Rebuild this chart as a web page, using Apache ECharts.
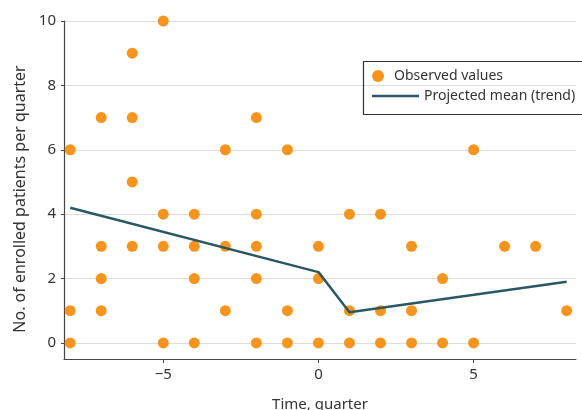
<!DOCTYPE html>
<html><head><meta charset="utf-8">
<script src="https://cdn.jsdelivr.net/npm/echarts@6/dist/echarts.min.js"></script>
<style>html,body{margin:0;padding:0;background:#fff}#c{width:582px;height:410px}</style>
</head><body><div id="c"></div>
<script>
// Observed values (quarter, number of enrolled patients)
const observedQuarter = [-8,-8,-8, -7,-7,-7,-7, -6,-6,-6,-6, -5,-5,-5,-5, -4,-4,-4,-4, -3,-3,-3, -2,-2,-2,-2,-2, -1,-1,-1, 0,0,0, 1,1,1, 2,2,2, 3,3,3, 4,4, 5,5, 6, 7, 8];
const observedCount   = [ 6, 1, 0,  7, 3, 2, 1,  9, 7, 5, 3, 10, 4, 3, 0,  4, 3, 2, 0,  6, 3, 1,  7, 4, 3, 2, 0,  6, 1, 0, 3,2,0, 4,1,0, 4,1,0, 3,1,0, 2,0, 6,0, 3, 3, 1];
// Projected mean (trend)
const trendQuarter = [-8, 0, 1, 8];
const trendMean    = [4.2, 2.2, 0.95, 1.9];
// Guide lines (intervention quarters)
const guideQuarters = [0, 1];
// Tick labels
const xTicks = [-5, 0, 5];
const yTicks = [0, 2, 4, 6, 8, 10];

const FONT = 'Noto Sans';
const TXT = '#333';
const ORANGE = '#f7941d';
const TEAL = '#2b5763';
const chart = echarts.init(document.getElementById('c'), null, {renderer: 'canvas'});

const observedData = observedQuarter.map((q, i) => [q, observedCount[i]]);
const trendData = trendQuarter.map((q, i) => [q, trendMean[i]]);

chart.setOption({
  animation: false,
  backgroundColor: '#fff',
  textStyle: {fontFamily: FONT},
  grid: {left: 64, right: 6, top: 21, bottom: 51, containLabel: false, outerBoundsMode: 'none'},
  xAxis: {
    type: 'value', min: -8.2, max: 8.3,
    name: 'Time, quarter', nameLocation: 'middle', nameGap: 38,
    nameTextStyle: {fontFamily: FONT, fontSize: 15, color: TXT},
    axisLine: {show: true, onZero: false, lineStyle: {color: '#444', width: 1.2}},
    axisTick: {show: true, length: 4, customValues: xTicks, lineStyle: {color: '#444'}},
    axisLabel: {customValues: xTicks, fontFamily: FONT, fontSize: 15, color: TXT, margin: 8,
      formatter: v => String(v).replace('-', '\u2212')},
    splitLine: {show: false}
  },
  yAxis: {
    type: 'value', min: -0.5, max: 10,
    name: 'No. of enrolled patients per quarter', nameLocation: 'middle', nameGap: 36,
    nameTextStyle: {fontFamily: FONT, fontSize: 16, color: TXT, padding: [0, 18, 0, 0]},
    axisLine: {show: true, onZero: false, lineStyle: {color: '#444', width: 1.2}},
    axisTick: {show: true, length: 3, customValues: yTicks, lineStyle: {color: '#444'}},
    axisLabel: {customValues: yTicks, fontFamily: FONT, fontSize: 15, color: TXT, margin: 8},
    splitLine: {show: true, lineStyle: {color: '#dcdcdc', width: 1.2}}
  },
  legend: [
    {
      left: 372, top: 69, padding: 0, orient: 'vertical',
      itemWidth: 12, itemHeight: 12,
      data: [{name: 'Observed values', icon: 'circle'}],
      textStyle: {fontFamily: FONT, fontSize: 14, color: TXT, padding: [0, 0, 0, 5]}
    },
    {
      left: 372, top: 89, padding: 0, orient: 'vertical',
      itemWidth: 47, itemHeight: 2.5,
      data: [{name: 'Projected mean (trend)', icon: 'rect'}],
      itemStyle: {color: TEAL},
      textStyle: {fontFamily: FONT, fontSize: 14, color: TXT}
    }
  ],
  graphic: [{
    type: 'rect', left: 361, top: 59, z: 100,
    shape: {width: 230, height: 53},
    style: {fill: 'none', stroke: '#333', lineWidth: 1.2}
  }],
  series: [
    {
      name: 'Guides', type: 'scatter', data: [], silent: true,
      markLine: {
        silent: true, symbol: 'none', label: {show: false},
        lineStyle: {color: '#4cc4f0', type: 'dotted', width: 1.4},
        data: guideQuarters.map(q => [{coord: [q, 10.2]}, {coord: [q, -0.5]}])
      }
    },
    {
      name: 'Observed values', type: 'scatter', data: observedData,
      symbol: 'circle', symbolSize: 11,
      itemStyle: {color: ORANGE, opacity: 1}, z: 3
    },
    {
      name: 'Projected mean (trend)', type: 'line', data: trendData,
      symbol: 'none', showSymbol: false,
      itemStyle: {color: TEAL},
      lineStyle: {color: TEAL, width: 2.5}, z: 4
    }
  ]
});
</script>
</body></html>
